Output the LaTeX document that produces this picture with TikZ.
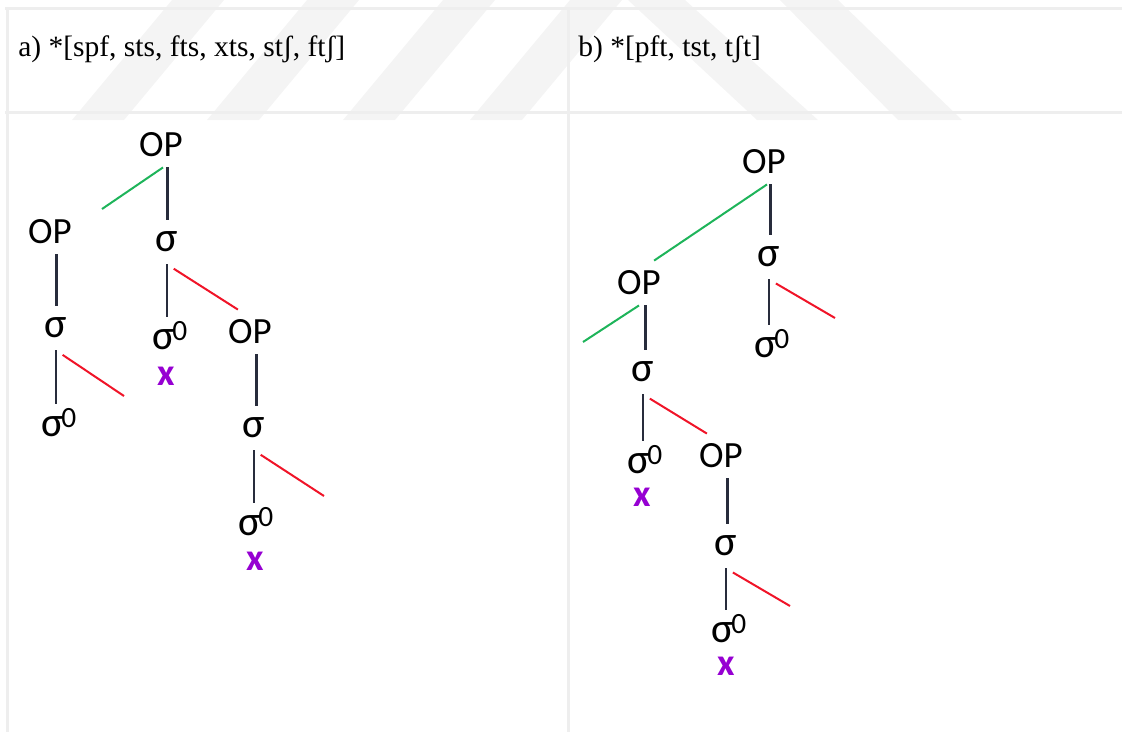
\documentclass[tikz,border=0pt]{standalone}
\usepackage{fontspec}
\setmainfont{Liberation Serif}
\newfontfamily\treefont{Carlito}
\usetikzlibrary{calc}

\definecolor{gridgray}{RGB}{238,238,238}
\definecolor{markgray}{RGB}{244,244,244}
\definecolor{stemcol}{RGB}{40,44,60}
\definecolor{greenline}{RGB}{30,180,90}
\definecolor{redline}{RGB}{240,20,40}
\definecolor{xpurple}{RGB}{150,0,210}

\begin{document}
\begin{tikzpicture}[x=1pt, y=-1pt, semithick]
  \tikzstyle{head} = [anchor=base west, inner sep=0pt, font=\fontsize{29.5}{32}\selectfont]
  \tikzstyle{op} = [inner xsep=0pt, inner ysep=10pt, font=\treefont\fontsize{37}{40}\selectfont]
  \tikzstyle{sig} = [inner xsep=0pt, inner ysep=12pt, font=\treefont\fontsize{42}{44}\selectfont]
  \tikzstyle{sigz} = [inner xsep=0pt, inner ysep=5pt, font=\treefont\fontsize{42}{44}\selectfont]
  \tikzstyle{bad} = [inner sep=0pt, text=xpurple, font=\treefont\bfseries\fontsize{38}{40}\selectfont]
  \tikzstyle{stem} = [draw=stemcol, line width=2.6pt]
  \tikzstyle{linkg} = [draw=greenline, line width=2pt]
  \tikzstyle{linkr} = [draw=redline, line width=2pt, shorten <=8pt]
  \tikzstyle{grid} = [draw=gridgray, line width=3pt]

  \useasboundingbox (0,0) rectangle (1122,732);

  % Watermark bands
  \foreach \bx in {72,207,343,470}
    \fill[markgray] (\bx,120) -- (\bx+52,120) -- (\bx+152,0) -- (\bx+100,0) -- cycle;
  \fill[markgray] (628,0) -- (685,0) -- (818,120) -- (757,120) -- cycle;
  \fill[markgray] (780,0) -- (838,0) -- (962,120) -- (898,120) -- cycle;

  % Table rules
  \path [grid] (5,8.5) -- (1122,8.5);
  \path [grid] (5,112.5) -- (1122,112.5);
  \path [grid] (7.5,7) -- (7.5,732);
  \path [grid] (568.5,7) -- (568.5,732);

  % Headers
  \node [head] (hda) at (18,56) {a) *[spf, sts, fts, xts, stʃ, ftʃ]};
  \node [head] (hdb) at (578,56) {b) *[pft, tst, tʃt]};

  % Place nodes (a)
  \node [op] (aop) at (161,145) {OP};
  \node [op] (aopl) at (50,232) {OP};
  \node [sig] (as) at (167,242) {σ};
  \node [sig] (asl) at (56,328) {σ};
  \node [sigz] (azl) at (59,423) {σ\kern-2pt\textsuperscript{0}};
  \node [sigz] (az) at (170,336) {σ\kern-2pt\textsuperscript{0}};
  \node [bad] (ax) at (166,376) {x};
  \node [op] (aopr) at (250,332) {OP};
  \node [sig] (asr) at (254,428) {σ};
  \node [sigz] (azr) at (256,522) {σ\kern-2pt\textsuperscript{0}};
  \node [bad] (axr) at (255,561) {x};
  \coordinate (agl) at (102,209);
  \coordinate (arl) at (124,396);
  \coordinate (arr) at (324,496);

  % Place nodes (b)
  \node [op] (bop) at (764,162) {OP};
  \node [sig] (bs) at (769,257) {σ};
  \node [sigz] (bz) at (772,344) {σ\kern-2pt\textsuperscript{0}};
  \node [op] (bopl) at (639,283) {OP};
  \node [sig] (bsl) at (643,372) {σ};
  \node [sigz] (bzl) at (645,460) {σ\kern-2pt\textsuperscript{0}};
  \node [bad] (bxl) at (642,497) {x};
  \node [op] (bopr) at (721,456) {OP};
  \node [sig] (bsr) at (726,546) {σ};
  \node [sigz] (bzr) at (729,629) {σ\kern-2pt\textsuperscript{0}};
  \node [bad] (bxr) at (726,666) {x};
  \coordinate (bgl) at (583,342);
  \coordinate (brt) at (835,318);
  \coordinate (brr) at (790,606);

  % Draw edges (a)
  \path [stem] ([xshift=6.5pt]aop.south) -- ([xshift=6.5pt]aop.south |- as.north);
  \path [stem] ([xshift=6.5pt]aopl.south) -- ([xshift=6.5pt]aopl.south |- asl.north);
  \path [stem] ([xshift=6.5pt]aopr.south) -- ([xshift=6.5pt]aopr.south |- asr.north);
  \path [stem] (as.south) -- (as.south |- az.north);
  \path [stem] (asl.south) -- (asl.south |- azl.north);
  \path [stem] (asr.south) -- (asr.south |- azr.north);
  \path [linkg] ([xshift=2pt]aop.south) -- (agl);
  \path [linkr] (asl.south) -- (arl);
  \path [linkr] (as.south) -- ([xshift=10pt]aopr.north west);
  \path [linkr] (asr.south) -- (arr);

  % Draw edges (b)
  \path [stem] ([xshift=6.5pt]bop.south) -- ([xshift=6.5pt]bop.south |- bs.north);
  \path [stem] ([xshift=6.5pt]bopl.south) -- ([xshift=6.5pt]bopl.south |- bsl.north);
  \path [stem] ([xshift=6.5pt]bopr.south) -- ([xshift=6.5pt]bopr.south |- bsr.north);
  \path [stem] (bs.south) -- (bs.south |- bz.north);
  \path [stem] (bsl.south) -- (bsl.south |- bzl.north);
  \path [stem] (bsr.south) -- (bsr.south |- bzr.north);
  \path [linkg] ([xshift=3pt]bop.south) -- ([xshift=-7pt]bopl.north east);
  \path [linkg] (bopl.south) -- (bgl);
  \path [linkr] (bs.south) -- (brt);
  \path [linkr] (bsl.south) -- ([xshift=8pt]bopr.north west);
  \path [linkr] (bsr.south) -- (brr);

\end{tikzpicture}
\end{document}
